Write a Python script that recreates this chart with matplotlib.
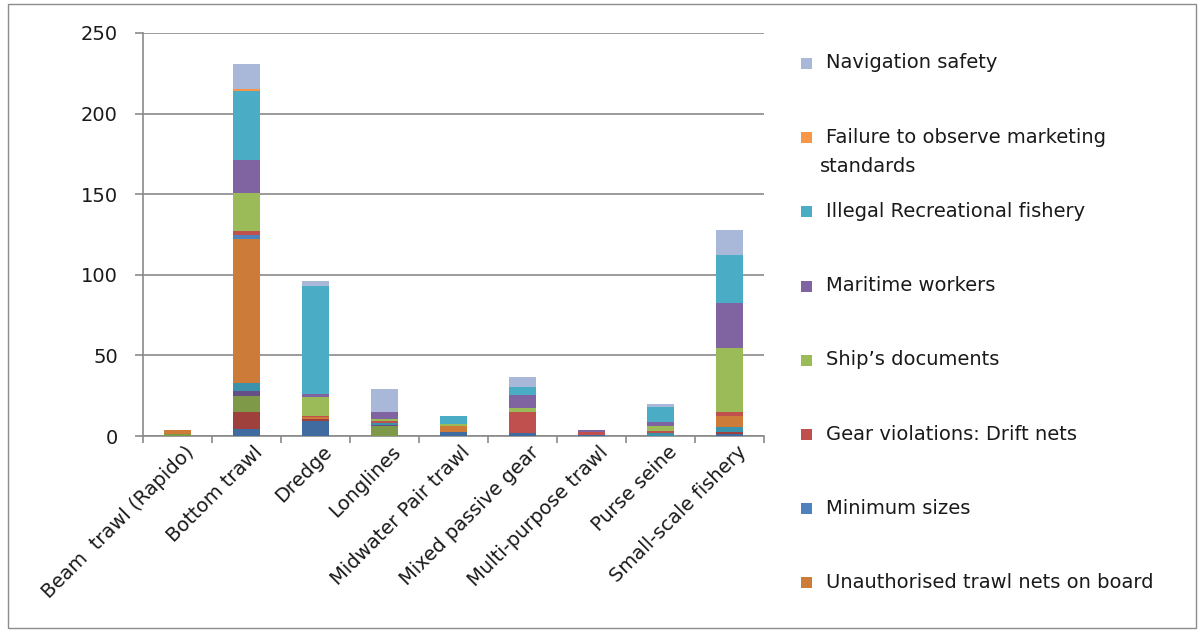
import numpy as np
import matplotlib
matplotlib.use("Agg")
import matplotlib.pyplot as plt
from matplotlib.patches import Rectangle
from matplotlib.transforms import ScaledTranslation

# Infringements by fishing gear, stacked by offence type (series 1..13, bottom to top)
gears = ["Beam  trawl (Rapido)", "Bottom trawl", "Dredge", "Longlines",
         "Midwater Pair trawl", "Mixed passive gear", "Multi-purpose trawl",
         "Purse seine", "Small-scale fishery"]

# the first five series sit below the legend's visible range
series_names = [None, None, None, None, None,
                "Unauthorised trawl nets on board",
                "Minimum sizes",
                "Gear violations: Drift nets",
                "Ship\u2019s documents",
                "Maritime workers",
                "Illegal Recreational fishery",
                "Failure to observe marketing\nstandards",
                "Navigation safety"]

series_colors = ["#3F6BA0", "#A0403C", "#7E9A48", "#664F87", "#3A93AB", "#CC7B38",
                 "#4F81BD", "#C0504D", "#9BBB59", "#8064A2", "#4BACC6", "#F79646",
                 "#A9B8D9"]

#            Beam  Bottom Dredge Long  Midw  Mixed Multi Purse Small
s01 = [0.0,  4.5,  9.5,  0.0,  2.7,  1.7,  0.5,  0.0,  1.5]
s02 = [0.0, 10.5,  1.0,  0.0,  0.0,  0.0,  0.0,  0.0,  1.0]
s03 = [1.3, 10.0,  0.0,  6.5,  0.0,  0.0,  0.0,  0.0,  0.0]
s04 = [0.0,  3.0,  0.0,  0.5,  0.0,  0.0,  0.0,  0.0,  0.0]
s05 = [0.0,  5.0,  0.0,  1.0,  0.0,  0.0,  0.0,  2.0,  3.0]
s06 = [2.5, 89.0,  1.0,  0.0,  3.7,  0.0,  0.0,  0.0,  6.8]
s07 = [0.0,  2.5,  0.0,  0.0,  0.0,  0.0,  0.0,  0.0,  0.0]
s08 = [0.0,  2.5,  0.8,  1.0,  0.0, 13.4,  2.0,  1.0,  2.5]
s09 = [0.0, 24.0, 11.8,  1.5,  1.3,  2.0,  0.0,  3.5, 40.0]
s10 = [0.0, 20.0,  2.0,  4.5,  0.0,  8.2,  1.0,  2.0, 27.7]
s11 = [0.0, 43.0, 67.0,  0.0,  5.0,  4.8,  0.0,  9.5, 29.6]
s12 = [0.0,  1.0,  0.0,  0.0,  0.0,  0.0,  0.0,  0.0,  0.0]
s13 = [0.0, 16.0,  3.0, 14.0,  0.0,  6.6,  0.5,  2.0, 16.0]

series_values = [s01, s02, s03, s04, s05, s06, s07, s08, s09, s10, s11, s12, s13]

W, H = 1202, 632
fig = plt.figure(figsize=(W / 100, H / 100), dpi=100)
plt.rcParams["font.family"] = ["DejaVu Sans"]

# outer chart frame
fig.patches.append(Rectangle((8 / W, 4 / H), (W - 14) / W, (H - 8) / H,
                             transform=fig.transFigure, fill=False,
                             edgecolor="#8c8c8c", linewidth=1.0))

ax = fig.add_axes([143 / W, (H - 436) / H, 621 / W, 403 / H])

x = np.arange(len(gears))
bottom = np.zeros(len(gears))
for vals, color in zip(series_values, series_colors):
    vals = np.array(vals)
    ax.bar(x, vals, width=0.39, bottom=bottom, color=color, zorder=3)
    bottom += vals

ax.set_xlim(-0.5, len(gears) - 0.5)
ax.set_ylim(0, 250)
ax.set_yticks(np.arange(0, 251, 50))
ax.yaxis.grid(True, color="#8a8a8a", linewidth=1.2, zorder=0)

for side in ["top", "right"]:
    ax.spines[side].set_visible(False)
for side in ["left", "bottom"]:
    ax.spines[side].set_color("#8a8a8a")
    ax.spines[side].set_linewidth(1.2)

# tick marks between categories, labels at the category centres
ax.set_xticks(np.arange(-0.5, len(gears), 1.0), minor=True)
ax.tick_params(axis="x", which="minor", length=5, color="#8a8a8a", width=1.2)
ax.set_xticks(x)
ax.set_xticklabels(gears, rotation=45, ha="right", rotation_mode="anchor",
                   fontsize=14, color="#1a1a1a")
ax.tick_params(axis="x", which="major", length=0, pad=6)
for lbl in ax.get_xticklabels():
    lbl.set_transform(lbl.get_transform() + ScaledTranslation(0.07, 0.02, fig.dpi_scale_trans))
ax.tick_params(axis="y", length=6, color="#8a8a8a", width=1.2, pad=12,
               labelsize=14, labelcolor="#1a1a1a")

# legend, top series first
legend_items = [(n, c) for n, c in zip(series_names, series_colors) if n][::-1]
y0, step = 63, 74.2
for i, (name, color) in enumerate(legend_items):
    yp = y0 + i * step
    fig.patches.append(Rectangle((801 / W, 1 - (yp + 6) / H), 11 / W, 11 / H,
                                 transform=fig.transFigure, facecolor=color,
                                 edgecolor="none"))
    lines = name.split("\n")
    fig.text(826 / W, 1 - yp / H, lines[0], fontsize=14, color="#1a1a1a",
             va="center", ha="left")
    for k, extra in enumerate(lines[1:], start=1):
        fig.text(820 / W, 1 - (yp + 29 * k) / H, extra, fontsize=14,
                 color="#1a1a1a", va="center", ha="left")

fig.savefig("out.png", dpi=100)
